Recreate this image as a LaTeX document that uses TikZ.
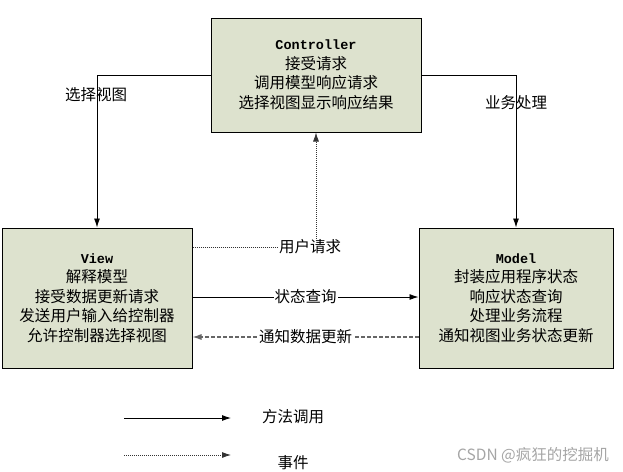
\documentclass[tikz,border=0pt]{standalone}
\usepackage{fontspec}
\setmainfont{Noto Sans CJK SC}
\newfontfamily\titlefont{Liberation Mono}
\usetikzlibrary{arrows.meta}
\definecolor{boxfill}{RGB}{221,226,206}
\definecolor{wmgray}{RGB}{165,165,165}
\begin{document}
\begin{tikzpicture}[x=1pt,y=-1pt,
  box/.style={draw=black,line width=1pt,fill=boxfill,align=center,inner sep=0pt,
    font=\fontsize{15.5}{19.5}\selectfont},
  tip/.style={-{Latex[length=9pt,width=6pt]}},
  call/.style={tip,line width=0.9pt,black},
  evt/.style={tip,line width=0.8pt,black!80,dash pattern=on 1pt off 1pt},
  notify/.style={tip,line width=1.1pt,black!60,dash pattern=on 4pt off 2pt},
  lbl/.style={fill=white,text=black,inner sep=1pt,font=\fontsize{15.5}{18}\selectfont},
]
\useasboundingbox (0,0) rectangle (623,471);

\node[box,minimum width=210pt,minimum height=114pt] (C) at (316,75)
  {{\titlefont\bfseries\fontsize{13.5}{19.5}\selectfont Controller}\\接受请求\\调用模型响应请求\\选择视图显示响应结果};
\node[box,minimum width=190pt,minimum height=140pt] (V) at (97,298)
  {{\titlefont\bfseries\fontsize{13.5}{19.5}\selectfont View}\\解释模型\\接受数据更新请求\\发送用户输入给控制器\\允许控制器选择视图};
\node[box,minimum width=194pt,minimum height=140pt] (M) at (516,298)
  {{\titlefont\bfseries\fontsize{13.5}{19.5}\selectfont Model}\\封装应用程序状态\\响应状态查询\\处理业务流程\\通知视图业务状态更新};

% Controller -> View / Model
\draw[call] (C.west) -| (V.north);
\node[font=\fontsize{15.5}{18}\selectfont] (lsel) at (96,95) {选择视图};
\draw[call] (C.east) -| (M.north);
\node[font=\fontsize{15.5}{18}\selectfont] (lbiz) at (516,103) {业务处理};

% user request (event)
\coordinate (uc) at (316,247);
\draw[evt] (V.east |- uc) -- (uc) -- (C.south);
\node[lbl] (lreq) at (310,247) {用户请求};

% state query
\coordinate (sq) at (0,297);
\draw[call] (V.east |- sq) -- node[lbl] (lsq) {状态查询} (M.west |- sq);

% notify
\coordinate (nt) at (0,337);
\draw[notify] (M.west |- nt) -- node[lbl] (lnt) {通知数据更新} (V.east |- nt);

% legend
\coordinate (l1a) at (124,418);
\coordinate (l1b) at (231,418);
\draw[call] (l1a) -- (l1b);
\node[font=\fontsize{15.5}{18}\selectfont] (lg1) at (293,417) {方法调用};
\coordinate (l2a) at (124,455);
\coordinate (l2b) at (231,455);
\draw[evt] (l2a) -- (l2b);
\node[font=\fontsize{15.5}{18}\selectfont] (lg2) at (293,463) {事件};

% watermark
\node[text=wmgray,font=\fontsize{15.5}{18}\selectfont] (wm) at (533,455) {CSDN @疯狂的挖掘机};
\end{tikzpicture}
\end{document}
